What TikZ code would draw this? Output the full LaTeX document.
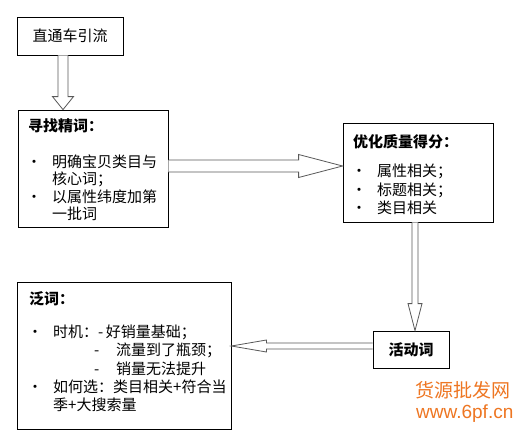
\documentclass[tikz,border=0pt]{standalone}
\usepackage{fontspec}
\setmainfont{Noto Sans CJK SC}
\newfontfamily\wmfont{Liberation Sans}
\usetikzlibrary{calc}
\definecolor{wmorange}{RGB}{238,118,34}

% bullet in front of a line
\newcommand{\dotitem}{\makebox[24pt][l]{\makebox[12pt]{·}}}
% hollow arrow: from, to, shaft half width, head half width, head length
\newcommand{\hollowarrow}[5]{%
  \path (#1) coordinate (ha) (#2) coordinate (hb);
  \path ($(hb)!#5!(ha)$) coordinate (hh);
  \draw[arrowline] ($(ha)!#3!90:(hb)$) -- ($(hh)!#3!-90:(ha)$)
    -- ($(hh)!#4!-90:(ha)$) -- (hb) -- ($(hh)!#4!90:(ha)$)
    -- ($(hh)!#3!90:(ha)$) -- ($(ha)!#3!-90:(hb)$);}

\begin{document}
\begin{tikzpicture}[x=1pt, y=-1pt,
    box/.style={draw=black, line width=0.8pt, fill=white, inner sep=0pt,
      font=\fontsize{15pt}{17pt}\selectfont},
    txt/.style={inner sep=0pt, align=left, anchor=base west},
    arrowline/.style={draw=black!65, fill=white, line width=0.8pt},
    wm/.style={inner sep=0pt, text=wmorange, font=\fontsize{19pt}{19pt}\selectfont}]
    \fill[white] (0,0) rectangle (529,437);
    \useasboundingbox (0,0) rectangle (529,437);
    % boxes
    \node[box, minimum width=106pt, minimum height=38pt] (b1) at (70,36) {直通车引流};
    \node[box, minimum width=150pt, minimum height=117pt] (b2) at (93,168.5) {};
    \node[box, minimum width=150pt, minimum height=99pt] (b3) at (418,172.5) {};
    \node[box, minimum width=76pt, minimum height=37pt] (b4) at (411,349.5) {\bfseries 活动词};
    \node[box, minimum width=214pt, minimum height=147pt] (b5) at (124,355.5) {};
    % texts (base = last line)
    \node[txt, font=\fontsize{15pt}{17.3pt}\selectfont] (b2t) at (28,219.5)
      {{\bfseries 寻找精词：}\\[18.4pt]
       \dotitem 明确宝贝类目与\\
       \hspace*{24pt}核心词；\\
       \dotitem 以属性纬度加第\\
       \hspace*{24pt}一批词};
    \node[txt, font=\fontsize{15pt}{18.5pt}\selectfont] (b3t) at (353,213.5)
      {{\bfseries 优化质量得分：}\\[10.5pt]
       \dotitem 属性相关；\\
       \dotitem 标题相关；\\
       \dotitem 类目相关};
    \node[txt, font=\fontsize{15pt}{18.2pt}\selectfont] (b5t) at (29,410.5)
      {{\bfseries 泛词：}\\[14.8pt]
       \dotitem 时机：-\,好销量基础；\\
       \hspace*{65pt}\makebox[22pt][l]{-}流量到了瓶颈；\\
       \hspace*{65pt}\makebox[22pt][l]{-}销量无法提升\\
       \dotitem 如何选：类目相关+符合当\\
       \hspace*{24pt}季+大搜索量};
    % connectors
    \coordinate (a1s) at ($(b1.south)+(-7,0)$);
    \coordinate (a1e) at (a1s |- b2.north);
    \hollowarrow{a1s}{a1e}{5pt}{10.5pt}{13pt}
    \coordinate (a2s) at ($(b2.east)+(0,-2.5)$);
    \coordinate (a2e) at (b3.west |- a2s);
    \hollowarrow{a2s}{a2e}{6pt}{11.5pt}{44pt}
    \coordinate (a3s) at ($(b3.south)+(-3,0)$);
    \coordinate (a3e) at (a3s |- b4.north);
    \hollowarrow{a3s}{a3e}{3pt}{7pt}{27pt}
    \coordinate (a4s) at ($(b4.west)+(0,-3.5)$);
    \coordinate (a4e) at (b5.east |- a4s);
    \hollowarrow{a4s}{a4e}{3pt}{6pt}{35pt}
    % watermark
    \node[wm, anchor=west] (wm1) at (415,390) {货源批发网};
    \node[wm, anchor=west, font=\wmfont\fontsize{19pt}{19pt}\selectfont] (wm2) at (416,414) {www.6pf.cn};
\end{tikzpicture}
\end{document}
